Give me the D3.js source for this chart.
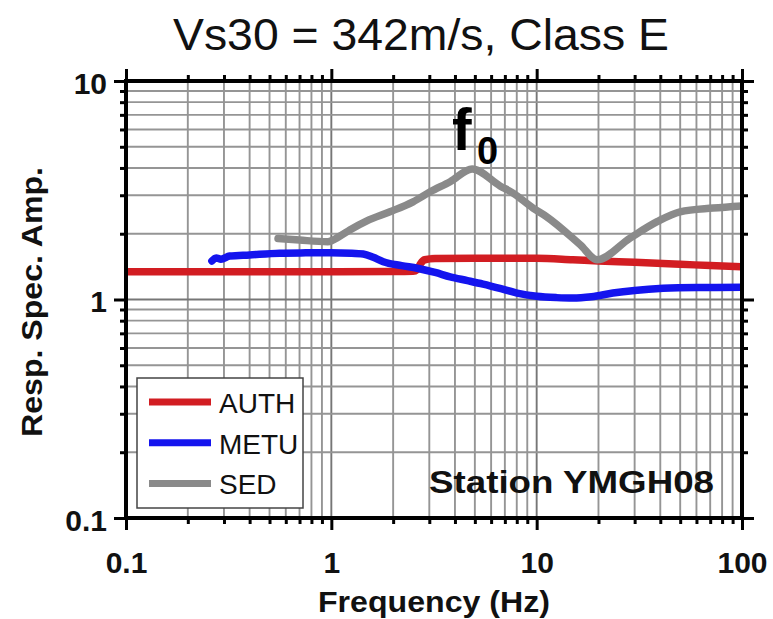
<!DOCTYPE html>
<html>
<head>
<meta charset="utf-8">
<script src="https://cdn.jsdelivr.net/npm/d3@7"></script>
<style>
  html, body { margin: 0; padding: 0; background: #fff; }
  svg { display: block; }
  text { font-family: "Liberation Sans", Arial, Helvetica, sans-serif; }
</style>
</head>
<body>
<svg id="chart" width="773" height="619"></svg>
<script>
// Response spectral amplification, station YMGH08
const title = "Vs30 = 342m/s, Class E";
const stationLabel = "Station YMGH08";
const xTitle = "Frequency (Hz)";
const yTitle = "Resp. Spec. Amp.";

const xMajorTicks = [0.1, 1, 10, 100];
const yMajorTicks = [0.1, 1, 10];
const xTickLabels = ["0.1", "1", "10", "100"];
const yTickLabels = ["0.1", "1", "10"];

const seriesNames = ["AUTH", "METU", "SED"];
const seriesColors = ["#d21d22", "#1414ee", "#8a8a8a"];

// AUTH
const authFreq = [0.1, 0.5, 1, 2, 2.5, 2.62, 2.72, 2.85, 3.2, 5, 10, 15, 20, 30, 50, 70, 100];
const authAmp  = [1.34, 1.34, 1.34, 1.342, 1.345, 1.37, 1.46, 1.52, 1.54, 1.545, 1.545, 1.52, 1.5, 1.48, 1.45, 1.43, 1.41];

// METU
const metuFreq = [0.262, 0.275, 0.29, 0.32, 0.4, 0.56, 0.75, 0.99, 1.25, 1.43, 1.6, 1.79, 2.2, 2.62, 3.2, 3.79, 4.6, 5.48, 6.7, 8.03, 10.0, 12.5, 15.0, 18.5, 23.5, 30, 41.3, 60, 100];
const metuAmp  = [1.50, 1.55, 1.53, 1.58, 1.60, 1.63, 1.635, 1.637, 1.63, 1.615, 1.56, 1.49, 1.43, 1.39, 1.33, 1.27, 1.22, 1.175, 1.12, 1.07, 1.035, 1.02, 1.015, 1.03, 1.07, 1.10, 1.125, 1.135, 1.137];

// SED
const sedFreq = [0.55, 0.7, 0.96, 1.1, 1.23, 1.49, 1.93, 2.5, 3.03, 3.79, 4.85, 6.63, 7.67, 9.6, 11.2, 16.3, 19.7, 28.5, 38.6, 49.9, 72.3, 100];
const sedAmp  = [1.90, 1.87, 1.84, 1.95, 2.08, 2.29, 2.52, 2.80, 3.11, 3.46, 3.96, 3.31, 3.07, 2.62, 2.39, 1.78, 1.52, 1.91, 2.27, 2.52, 2.62, 2.68];

const svg = d3.select("#chart");
const plotL = 126, plotR = 742, plotT = 81, plotB = 518;

const x = d3.scaleLog().domain([0.1, 100]).range([plotL, plotR]);
const y = d3.scaleLog().domain([0.1, 10]).range([plotB, plotT]);

const xAll = x.ticks();
const yAll = y.ticks();
const isMajor = v => Math.abs(Math.log10(v) - Math.round(Math.log10(v))) < 1e-9;

// grid
const grid = svg.append("g");
grid.selectAll("line.gx").data(xAll).join("line")
  .attr("x1", d => x(d)).attr("x2", d => x(d))
  .attr("y1", plotT).attr("y2", plotB)
  .attr("stroke", d => isMajor(d) ? "#767676" : "#959595")
  .attr("stroke-width", 1.9);
grid.selectAll("line.gy").data(yAll).join("line")
  .attr("y1", d => y(d)).attr("y2", d => y(d))
  .attr("x1", plotL).attr("x2", plotR)
  .attr("stroke", d => isMajor(d) ? "#767676" : "#959595")
  .attr("stroke-width", 1.9);

// curves
svg.append("clipPath").attr("id", "plotClip")
  .append("rect").attr("x", plotL).attr("y", plotT)
  .attr("width", plotR - plotL).attr("height", plotB - plotT);

const line = d3.line().x(d => x(d[0])).y(d => y(d[1])).curve(d3.curveMonotoneX);
const seriesData = [
  d3.zip(authFreq, authAmp),
  d3.zip(metuFreq, metuAmp),
  d3.zip(sedFreq, sedAmp)
];
const curves = svg.append("g").attr("clip-path", "url(#plotClip)");
seriesData.forEach((pts, i) => {
  curves.append("path")
    .attr("d", line(pts))
    .attr("fill", "none")
    .attr("stroke", seriesColors[i])
    .attr("stroke-width", 7.5)
    .attr("stroke-linejoin", "round")
    .attr("stroke-linecap", "round");
});

// axes: major ticks long, minor ticks short, all pointing outward
function styleAxis(g) {
  g.select(".domain").remove();
  g.selectAll(".tick line").attr("stroke", "#000").attr("stroke-width", 3);
}
const xMinor = xAll.filter(d => !isMajor(d));
const yMinor = yAll.filter(d => !isMajor(d));

const axes = svg.append("g");
[["bottom", plotB], ["top", plotT]].forEach(([side, pos]) => {
  const mk = side === "bottom" ? d3.axisBottom : d3.axisTop;
  axes.append("g").attr("transform", `translate(0,${pos})`)
    .call(mk(x).tickValues(xMinor).tickSize(6).tickFormat(""))
    .call(styleAxis);
  const gMaj = axes.append("g").attr("transform", `translate(0,${pos})`)
    .call(mk(x).tickValues(xMajorTicks).tickSize(12)
      .tickFormat(side === "bottom" ? (d, i) => xTickLabels[i] : ""))
    .call(styleAxis);
  if (side === "bottom") {
    gMaj.selectAll(".tick text")
      .attr("y", 55).attr("dy", null)
      .attr("font-size", 30).attr("font-weight", "bold")
      .attr("font-family", "'Liberation Sans', Arial, sans-serif")
      .attr("fill", "#111");
  }
});
[["left", plotL], ["right", plotR]].forEach(([side, pos]) => {
  const mk = side === "left" ? d3.axisLeft : d3.axisRight;
  axes.append("g").attr("transform", `translate(${pos},0)`)
    .call(mk(y).tickValues(yMinor).tickSize(6).tickFormat(""))
    .call(styleAxis);
  const gMaj = axes.append("g").attr("transform", `translate(${pos},0)`)
    .call(mk(y).tickValues(yMajorTicks).tickSize(12)
      .tickFormat(side === "left" ? (d, i) => yTickLabels[i] : ""))
    .call(styleAxis);
  if (side === "left") {
    gMaj.selectAll(".tick text")
      .attr("x", -19).attr("dy", "0.4em")
      .attr("text-anchor", "end")
      .attr("font-size", 30).attr("font-weight", "bold")
      .attr("font-family", "'Liberation Sans', Arial, sans-serif")
      .attr("fill", "#111");
  }
});

// frame
svg.append("rect")
  .attr("x", plotL).attr("y", plotT)
  .attr("width", plotR - plotL).attr("height", plotB - plotT)
  .attr("fill", "none").attr("stroke", "#000").attr("stroke-width", 4);

// legend
const legend = svg.append("g");
legend.append("rect")
  .attr("x", 137).attr("y", 378).attr("width", 166).attr("height", 130)
  .attr("fill", "#fff").attr("stroke", "#444").attr("stroke-width", 1.5);
seriesNames.forEach((name, i) => {
  const ly = 402 + i * 40.7;
  legend.append("line")
    .attr("x1", 149).attr("x2", 211).attr("y1", ly).attr("y2", ly)
    .attr("stroke", seriesColors[i]).attr("stroke-width", 7);
  legend.append("text")
    .attr("x", 219).attr("y", ly + 11)
    .attr("font-size", 28).attr("fill", "#111")
    .text(name);
});

// station label
svg.append("text")
  .attr("x", 429).attr("y", 493)
  .attr("font-size", 32).attr("font-weight", "bold").attr("fill", "#111")
  .attr("textLength", 285).attr("lengthAdjust", "spacingAndGlyphs")
  .text(stationLabel);

// resonance frequency marker
svg.append("text")
  .attr("x", 452).attr("y", 150)
  .attr("font-family", "'DejaVu Sans', sans-serif")
  .attr("font-size", 59).attr("font-weight", "bold").attr("fill", "#000")
  .text("f");
svg.append("text")
  .attr("x", 477).attr("y", 164)
  .attr("font-family", "'DejaVu Sans', sans-serif")
  .attr("font-size", 38).attr("font-weight", "bold").attr("fill", "#000")
  .text("0");

// title and axis titles
svg.append("text")
  .attr("x", 173).attr("y", 50)
  .attr("font-size", 45).attr("fill", "#111")
  .attr("textLength", 496).attr("lengthAdjust", "spacingAndGlyphs")
  .text(title);

svg.append("text")
  .attr("x", 318).attr("y", 612)
  .attr("font-size", 30).attr("font-weight", "bold").attr("fill", "#111")
  .attr("textLength", 232).attr("lengthAdjust", "spacingAndGlyphs")
  .text(xTitle);

svg.append("text")
  .attr("transform", "translate(42,437) rotate(-90)")
  .attr("x", 0).attr("y", 0)
  .attr("font-size", 30).attr("font-weight", "bold").attr("fill", "#111")
  .attr("textLength", 270).attr("lengthAdjust", "spacingAndGlyphs")
  .text(yTitle);
</script>
</body>
</html>
